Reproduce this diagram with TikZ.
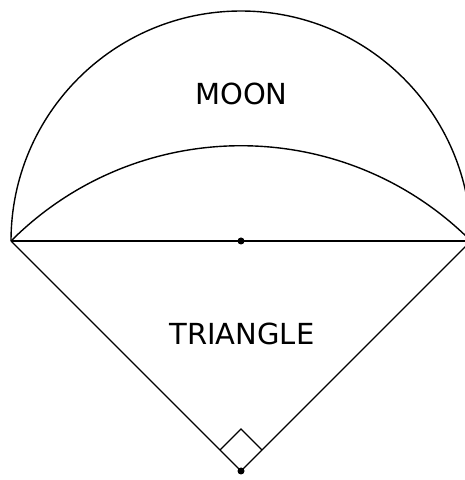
\documentclass[tikz,border=0pt]{standalone}
\usepackage{fontspec}
\setmainfont{DejaVu Sans}
\usetikzlibrary{calc}
\begin{document}
\begin{tikzpicture}[x=1pt,y=1pt,
  edge/.style={line width=1.4pt,line join=miter},
  dotmark/.style={circle,fill=black,inner sep=0pt,minimum size=7pt},
  label/.style={font=\fontsize{29}{32}\selectfont,inner sep=0pt,anchor=base}]
\useasboundingbox (0,0) rectangle (465,480);
\clip (0,0) rectangle (465,480);
\coordinate (L) at (11,239);
\coordinate (R) at (471,239);
\node[dotmark] (C) at (241,239) {};
\node[dotmark] (B) at (241,9) {};
% semicircle
\draw[edge] (L) arc[start angle=180,end angle=0,radius=230];
% inner arc centered at B
\draw[edge] (L) arc[start angle=135,end angle=45,radius=325.27];
% diameter
\draw[edge] (L) -- (R);
% triangle sides
\draw[edge] (L) -- (B.center) -- (R);
% right angle mark
\draw[edge] ($(B.center)+(-21,21)$) -- ($(B.center)+(0,42)$) -- ($(B.center)+(21,21)$);
\node[label] (moon) at (241.5,375) {MOON};
\node[label] (tri) at (242,135) {TRIANGLE};
\end{tikzpicture}
\end{document}
